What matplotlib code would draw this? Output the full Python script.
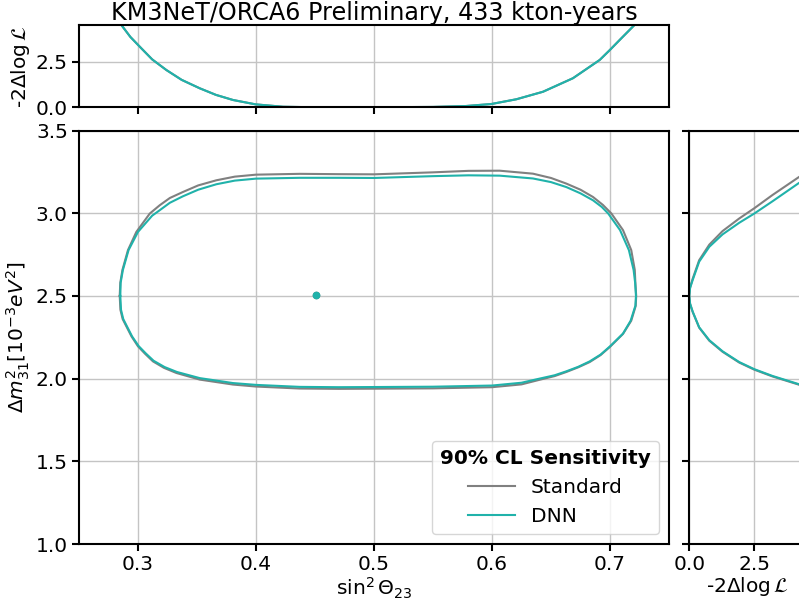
import numpy as np
import matplotlib
matplotlib.use('Agg')
import matplotlib.pyplot as plt

# ==========================================
# 數據
# ==========================================

# 90% CL 等高線: Standard
std_s23 = [0.2845, 0.2851, 0.2870, 0.2902, 0.2945, 0.3000, 0.3060, 0.3127, 0.3220, 0.3325,
           0.3523, 0.3805, 0.4000, 0.4370, 0.4700, 0.5000, 0.5500, 0.6000, 0.6250, 0.6404,
           0.6530, 0.6630, 0.6730, 0.6828, 0.6920, 0.7000, 0.7110, 0.7180, 0.7218, 0.7222,
           0.7215, 0.7210, 0.7180, 0.7110, 0.7012, 0.6940, 0.6856, 0.6750, 0.6630, 0.6500,
           0.6347, 0.6065, 0.5800, 0.5500, 0.5000, 0.4700, 0.4370, 0.4000, 0.3820, 0.3664,
           0.3510, 0.3380, 0.3270, 0.3184, 0.3100, 0.2986, 0.2915, 0.2868, 0.2850, 0.2845]
std_dm2 = [2.500, 2.416, 2.360, 2.315, 2.255, 2.195, 2.150, 2.104, 2.065, 2.034,
           1.994, 1.964, 1.952, 1.940, 1.938, 1.939, 1.941, 1.948, 1.965, 1.993,
           2.015, 2.040, 2.068, 2.100, 2.142, 2.192, 2.270, 2.350, 2.440, 2.500,
           2.580, 2.657, 2.777, 2.898, 2.998, 3.050, 3.098, 3.142, 3.179, 3.213,
           3.239, 3.257, 3.256, 3.247, 3.235, 3.236, 3.238, 3.233, 3.221, 3.199,
           3.168, 3.128, 3.092, 3.048, 2.998, 2.887, 2.777, 2.657, 2.580, 2.500]

# 90% CL 等高線: DNN
dnn_s23 = [0.2850, 0.2856, 0.2875, 0.2907, 0.2950, 0.3005, 0.3065, 0.3132, 0.3225, 0.3330,
           0.3523, 0.3805, 0.4000, 0.4370, 0.4700, 0.5000, 0.5500, 0.6000, 0.6250, 0.6404,
           0.6530, 0.6630, 0.6730, 0.6828, 0.6920, 0.7000, 0.7110, 0.7175, 0.7215, 0.7220,
           0.7213, 0.7200, 0.7160, 0.7085, 0.6985, 0.6930, 0.6856, 0.6750, 0.6630, 0.6500,
           0.6347, 0.6065, 0.5800, 0.5500, 0.5000, 0.4700, 0.4370, 0.4000, 0.3820, 0.3664,
           0.3510, 0.3380, 0.3270, 0.3184, 0.3120, 0.3000, 0.2920, 0.2872, 0.2853, 0.2850]
dnn_dm2 = [2.500, 2.416, 2.360, 2.315, 2.255, 2.197, 2.153, 2.108, 2.070, 2.040,
           2.003, 1.973, 1.962, 1.950, 1.948, 1.949, 1.951, 1.958, 1.975, 2.000,
           2.020, 2.044, 2.071, 2.104, 2.145, 2.195, 2.272, 2.350, 2.440, 2.500,
           2.580, 2.657, 2.777, 2.898, 2.998, 3.038, 3.078, 3.120, 3.158, 3.188,
           3.210, 3.227, 3.229, 3.224, 3.213, 3.214, 3.214, 3.209, 3.197, 3.175,
           3.142, 3.102, 3.063, 3.018, 2.985, 2.887, 2.777, 2.657, 2.580, 2.500]

# 最佳擬合點
best_s23 = 0.4506
best_dm2 = 2.506

# 上方 profile: -2 dlogL vs sin^2 theta23 (兩條幾乎重疊)
prof_s23 = [0.2859, 0.2935, 0.3014, 0.3120, 0.3240, 0.3370, 0.3523, 0.3660, 0.3805, 0.3997,
            0.4229, 0.4510, 0.4900, 0.5218, 0.5500, 0.5780, 0.5995, 0.6207, 0.6432, 0.6686,
            0.6913, 0.7000, 0.7097, 0.7209]
prof_s23_std = [4.50, 3.85, 3.32, 2.62, 2.04, 1.50, 1.04, 0.68, 0.40, 0.16,
                0.03, 0.00, 0.005, 0.01, 0.02, 0.07, 0.18, 0.44, 0.85, 1.59,
                2.59, 3.14, 3.78, 4.51]
prof_s23_dnn = [4.50, 3.85, 3.32, 2.62, 2.04, 1.50, 1.04, 0.68, 0.40, 0.16,
                0.03, 0.00, 0.005, 0.01, 0.02, 0.07, 0.18, 0.44, 0.85, 1.59,
                2.59, 3.14, 3.78, 4.51]

# 右方 profile: -2 dlogL vs dm2_31
prof_chi = [4.6, 4.22, 3.2, 2.5, 1.92, 1.28, 0.77, 0.38, 0.13, 0.03, 0.0,
            0.03, 0.13, 0.38, 0.77, 1.28, 1.92, 2.5, 3.2, 4.22, 4.6]
prof_dm2_std = [3.250, 3.219, 3.110, 3.030, 2.968, 2.892, 2.810, 2.716, 2.604, 2.550, 2.500,
                2.452, 2.403, 2.308, 2.229, 2.162, 2.097, 2.054, 2.013, 1.963, 1.950]
prof_dm2_dnn = [3.212, 3.183, 3.072, 2.998, 2.942, 2.872, 2.797, 2.707, 2.596, 2.548, 2.500,
                2.453, 2.405, 2.310, 2.232, 2.165, 2.100, 2.057, 2.016, 1.966, 1.953]

title = "KM3NeT/ORCA6 Preliminary, 433 kton-years"
chi_label = r'-2$\Delta$log$\,\mathcal{L}$'

# ==========================================
# 繪圖
# ==========================================

c_std = 'grey'
c_dnn = 'lightseagreen'
W, H = 799, 602
fs = 14.5

plt.rcParams['font.size'] = fs
plt.rcParams['axes.linewidth'] = 1.5

fig = plt.figure(figsize=(W / 100, H / 100), dpi=100)

def px_axes(l, t, r, b):
    return fig.add_axes([l / W, 1 - b / H, (r - l) / W, (b - t) / H])

ax = px_axes(79, 130.5, 669, 544)
ax_top = px_axes(79, 25, 669, 107.3)
ax_right = px_axes(689.3, 130.5, 806.3, 544)

for a in (ax, ax_top, ax_right):
    a.grid(True, color='#c4c4c4', lw=1.0)
    a.set_axisbelow(True)
    a.tick_params(direction='out', length=5, width=1.5, pad=3, labelsize=fs)

# 主圖
ax.plot(std_s23, std_dm2, color=c_std, lw=1.5, label='Standard')
ax.plot(dnn_s23, dnn_dm2, color=c_dnn, lw=1.5, label='DNN')
ax.plot([best_s23], [best_dm2], 'o', color=c_std, ms=4.5)
ax.plot([best_s23], [best_dm2], 'o', color=c_dnn, ms=4.5)
ax.set_xlim(0.25, 0.75)
ax.set_ylim(1.0, 3.5)
ax.set_xticks([0.3, 0.4, 0.5, 0.6, 0.7])
ax.set_yticks([1.0, 1.5, 2.0, 2.5, 3.0, 3.5])
ax.set_xlabel(r'$\sin^2\Theta_{23}$', fontsize=fs, labelpad=1)
ax.set_ylabel(r'$\Delta m^2_{31} [10^{-3} eV^2]$', fontsize=fs, labelpad=3)
leg = ax.legend(loc='lower right', title='90% CL Sensitivity', fontsize=fs,
                handlelength=2.3, framealpha=0.8)
leg.get_title().set_fontweight('bold')
leg.get_title().set_fontsize(fs)

# 上方
ax_top.plot(prof_s23, prof_s23_std, color=c_std, lw=1.5)
ax_top.plot(prof_s23, prof_s23_dnn, color=c_dnn, lw=1.5)
ax_top.set_xlim(0.25, 0.75)
ax_top.set_ylim(0, 4.5)
ax_top.set_xticks([0.3, 0.4, 0.5, 0.6, 0.7])
ax_top.set_xticklabels([])
ax_top.set_yticks([0.0, 2.5])
ax_top.set_ylabel(chi_label, fontsize=fs, labelpad=3)
ax_top.set_title(title, fontsize=17.2, pad=3)

# 右方
ax_right.plot(prof_chi, prof_dm2_std, color=c_std, lw=1.5)
ax_right.plot(prof_chi, prof_dm2_dnn, color=c_dnn, lw=1.5)
ax_right.set_xlim(0, 4.5)
ax_right.set_ylim(1.0, 3.5)
ax_right.set_xticks([0.0, 2.5])
ax_right.set_yticks([1.0, 1.5, 2.0, 2.5, 3.0, 3.5])
ax_right.set_yticklabels([])
ax_right.set_xlabel(chi_label, fontsize=fs, labelpad=1)

fig.savefig('out.png', dpi=100)
